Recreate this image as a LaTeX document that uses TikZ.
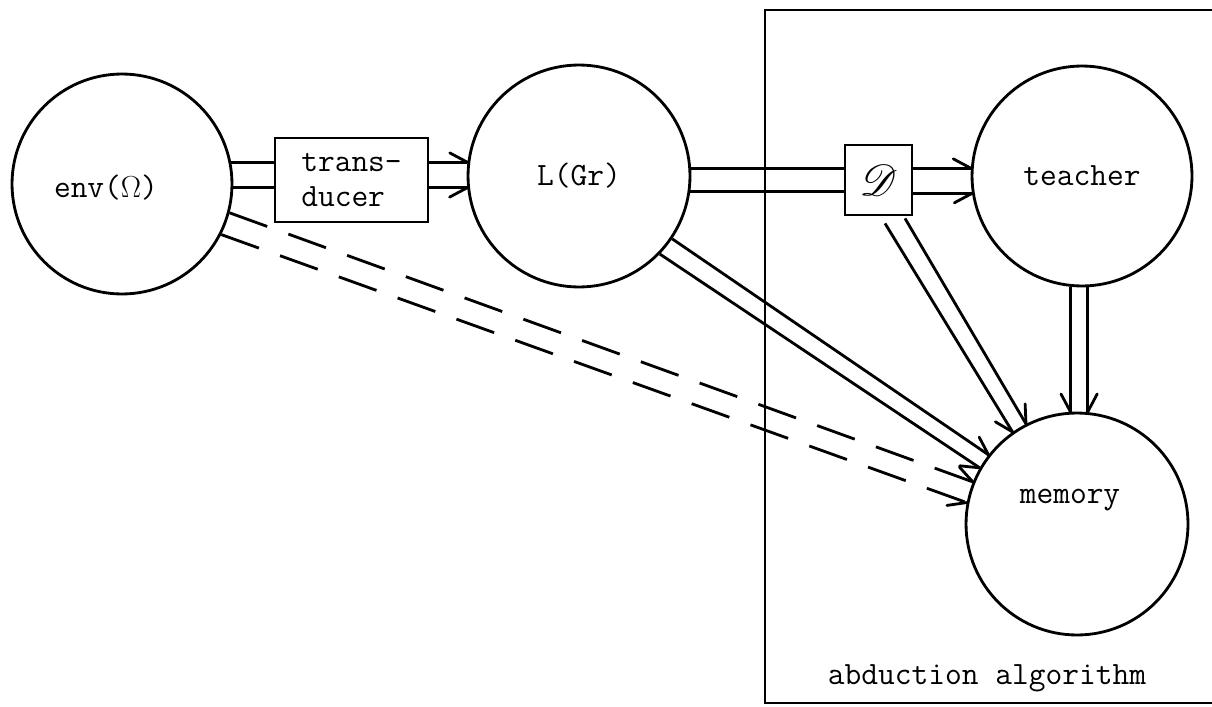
\documentclass[tikz,border=0pt]{standalone}
\usepackage{fontspec}
\usepackage{mathrsfs}
\usetikzlibrary{calc}
\tikzset{
  base/.style={line width=1.6pt},
  circ/.style={base,draw,circle,inner sep=0pt,minimum size=#1},
  boxnode/.style={base,draw,rectangle,inner sep=0pt},
  txt/.style={font=\fontsize{18.5}{19.5}\selectfont\ttfamily},
  conn/.style={base},
  barbline/.style={base,line cap=round},
  dsh/.style={dash pattern=on 0.8cm off 0.45cm},
}
% one-sided barb at the end of a connector: #1 start, #2 end, #3 angle (negative = left of travel)
\newcommand\mybarb[3]{\draw[barbline] (#2) -- ($(#2)!4mm!#3:(#1)$);}
\begin{document}
\begin{tikzpicture}[x=0.02cm,y=-0.02cm]
\useasboundingbox (0,0) rectangle (1212,706);
% frame of the abduction algorithm
\draw[base] (1212,10) -- (765,10) -- (765,703) -- (1212,703);
\node[txt] (abd) at (987,678) {abduction algorithm};
% nodes
\node[circ=4.4cm] (env) at (122,184) {};
\node[txt] (envt) at (106,188) {env($\Omega$)};
\node[boxnode,txt,minimum width=3.06cm,minimum height=1.68cm,align=left] (trans) at (351.5,180) {trans-\\ducer};
\node[circ=4.44cm,txt] (LGr) at (579,176) {L(Gr)};
\node[boxnode,minimum width=1.34cm,minimum height=1.4cm,font=\fontsize{28}{28}\selectfont] (D) at (878.5,180) {$\mathscr{D}$};
\node[circ=4.4cm,txt] (teacher) at (1082,176) {teacher};
\node[circ=4.44cm] (memory) at (1077,524) {};
\node[txt] (memt) at (1070,500) {memory};
\coordinate (dm1) at ($(D.south)+(6.5,7)$);
\coordinate (dm2) at ($(D.south)+(26.5,2)$);
% connectors
\draw[conn] (env.11) -- (env.11 -| trans.west);
\draw[conn] (env.-2) -- (env.-2 -| trans.west);
\draw[conn] (trans.east |- LGr.173) -- (LGr.173);
\mybarb{trans.east |- LGr.173}{LGr.173}{-28}
\draw[conn] (trans.east |- LGr.186) -- (LGr.186);
\mybarb{trans.east |- LGr.186}{LGr.186}{28}
\draw[conn] (LGr.4) -- (LGr.4 -| D.west);
\draw[conn] (LGr.-8) -- (LGr.-8 -| D.west);
\draw[conn] (D.east |- teacher.176) -- (teacher.176);
\mybarb{D.east |- teacher.176}{teacher.176}{-28}
\draw[conn] (D.east |- teacher.189) -- (teacher.189);
\mybarb{D.east |- teacher.189}{teacher.189}{28}
\draw[conn] (teacher.264) -- (teacher.264 |- memory.north);
\mybarb{teacher.264}{teacher.264 |- memory.north}{28}
\draw[conn] (teacher.273) -- (teacher.273 |- memory.north);
\mybarb{teacher.273}{teacher.273 |- memory.north}{-28}
\draw[conn] (LGr.-34) -- (memory.142);
\mybarb{LGr.-34}{memory.142}{-28}
\draw[conn] (LGr.-44) -- (memory.150);
\mybarb{LGr.-44}{memory.150}{28}
\draw[conn,dsh] (env.-15) -- (memory.158);
\mybarb{env.-15}{memory.158}{-28}
\draw[conn,dsh] (env.-27) -- (memory.169);
\mybarb{env.-27}{memory.169}{28}
\draw[conn] (dm1) -- (memory.125);
\mybarb{dm1}{memory.125}{28}
\draw[conn] (dm2) -- (memory.117);
\mybarb{dm2}{memory.117}{-28}
\end{tikzpicture}
\end{document}
